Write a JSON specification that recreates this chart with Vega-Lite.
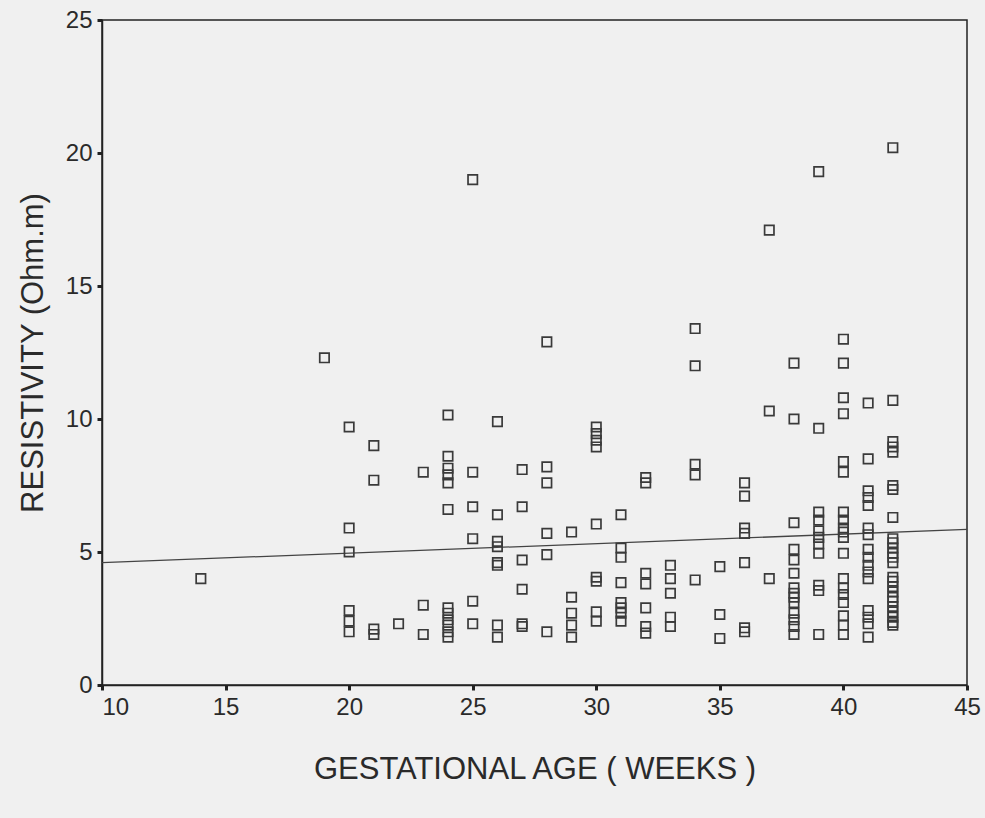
{
  "$schema": "https://vega.github.io/schema/vega-lite/v6.json",
  "width": 865,
  "height": 665,
  "autosize": "none",
  "padding": {"left": 102, "top": 20, "right": 18, "bottom": 133},
  "background": "#f0f0f0",
  "config": {
    "view": {"stroke": "#222222", "strokeWidth": 1.5},
    "font": "Liberation Sans",
    "axis": {
      "grid": false,
      "domainColor": "#222222",
      "domainWidth": 1.5,
      "tickColor": "#222222",
      "tickWidth": 3,
      "tickSize": 5,
      "labelFont": "Liberation Sans",
      "labelFontSize": 24,
      "labelColor": "#2a2a2a",
      "titleFont": "Liberation Sans",
      "titleFontSize": 31,
      "titleFontWeight": "normal",
      "titleColor": "#2a2a2a"
    }
  },
  "datasets": {
    "pts": [
      {"age": 14, "res": 4.0},
      {"age": 19, "res": 12.3},
      {"age": 20, "res": 9.7}, {"age": 20, "res": 5.9}, {"age": 20, "res": 5.0}, {"age": 20, "res": 2.8}, {"age": 20, "res": 2.4}, {"age": 20, "res": 2.0},
      {"age": 21, "res": 9.0}, {"age": 21, "res": 7.7}, {"age": 21, "res": 2.1}, {"age": 21, "res": 1.9},
      {"age": 22, "res": 2.3},
      {"age": 23, "res": 8.0}, {"age": 23, "res": 3.0}, {"age": 23, "res": 1.9},
      {"age": 24, "res": 10.15}, {"age": 24, "res": 8.6}, {"age": 24, "res": 8.15}, {"age": 24, "res": 7.9}, {"age": 24, "res": 7.6}, {"age": 24, "res": 6.6}, {"age": 24, "res": 2.9}, {"age": 24, "res": 2.7}, {"age": 24, "res": 2.45}, {"age": 24, "res": 2.25}, {"age": 24, "res": 2.0}, {"age": 24, "res": 1.8},
      {"age": 25, "res": 19.0}, {"age": 25, "res": 8.0}, {"age": 25, "res": 6.7}, {"age": 25, "res": 5.5}, {"age": 25, "res": 3.15}, {"age": 25, "res": 2.3},
      {"age": 26, "res": 9.9}, {"age": 26, "res": 6.4}, {"age": 26, "res": 5.4}, {"age": 26, "res": 5.2}, {"age": 26, "res": 4.6}, {"age": 26, "res": 4.5}, {"age": 26, "res": 2.25}, {"age": 26, "res": 1.8},
      {"age": 27, "res": 8.1}, {"age": 27, "res": 6.7}, {"age": 27, "res": 4.7}, {"age": 27, "res": 3.6}, {"age": 27, "res": 2.3}, {"age": 27, "res": 2.2},
      {"age": 28, "res": 12.9}, {"age": 28, "res": 8.2}, {"age": 28, "res": 7.6}, {"age": 28, "res": 5.7}, {"age": 28, "res": 4.9}, {"age": 28, "res": 2.0},
      {"age": 29, "res": 5.75}, {"age": 29, "res": 3.3}, {"age": 29, "res": 2.7}, {"age": 29, "res": 2.25}, {"age": 29, "res": 1.8},
      {"age": 30, "res": 9.7}, {"age": 30, "res": 9.45}, {"age": 30, "res": 9.2}, {"age": 30, "res": 8.95}, {"age": 30, "res": 6.05}, {"age": 30, "res": 4.05}, {"age": 30, "res": 3.9}, {"age": 30, "res": 2.75}, {"age": 30, "res": 2.4},
      {"age": 31, "res": 6.4}, {"age": 31, "res": 5.15}, {"age": 31, "res": 4.8}, {"age": 31, "res": 3.85}, {"age": 31, "res": 3.1}, {"age": 31, "res": 2.9}, {"age": 31, "res": 2.7}, {"age": 31, "res": 2.4},
      {"age": 32, "res": 7.8}, {"age": 32, "res": 7.6}, {"age": 32, "res": 4.2}, {"age": 32, "res": 3.8}, {"age": 32, "res": 2.9}, {"age": 32, "res": 2.2}, {"age": 32, "res": 1.95},
      {"age": 33, "res": 4.5}, {"age": 33, "res": 4.0}, {"age": 33, "res": 3.45}, {"age": 33, "res": 2.55}, {"age": 33, "res": 2.2},
      {"age": 34, "res": 13.4}, {"age": 34, "res": 12.0}, {"age": 34, "res": 8.3}, {"age": 34, "res": 7.9}, {"age": 34, "res": 3.95},
      {"age": 35, "res": 4.45}, {"age": 35, "res": 2.65}, {"age": 35, "res": 1.75},
      {"age": 36, "res": 7.6}, {"age": 36, "res": 7.1}, {"age": 36, "res": 5.9}, {"age": 36, "res": 5.7}, {"age": 36, "res": 4.6}, {"age": 36, "res": 2.15}, {"age": 36, "res": 2.0},
      {"age": 37, "res": 17.1}, {"age": 37, "res": 10.3}, {"age": 37, "res": 4.0},
      {"age": 38, "res": 12.1}, {"age": 38, "res": 10.0}, {"age": 38, "res": 6.1}, {"age": 38, "res": 5.1}, {"age": 38, "res": 4.7}, {"age": 38, "res": 4.2}, {"age": 38, "res": 3.65}, {"age": 38, "res": 3.45}, {"age": 38, "res": 3.3}, {"age": 38, "res": 3.1}, {"age": 38, "res": 2.7}, {"age": 38, "res": 2.45}, {"age": 38, "res": 2.2}, {"age": 38, "res": 1.9},
      {"age": 39, "res": 19.3}, {"age": 39, "res": 9.65}, {"age": 39, "res": 6.5}, {"age": 39, "res": 6.2}, {"age": 39, "res": 5.8}, {"age": 39, "res": 5.55}, {"age": 39, "res": 5.3}, {"age": 39, "res": 4.95}, {"age": 39, "res": 3.75}, {"age": 39, "res": 3.55}, {"age": 39, "res": 1.9},
      {"age": 40, "res": 13.0}, {"age": 40, "res": 12.1}, {"age": 40, "res": 10.8}, {"age": 40, "res": 10.2}, {"age": 40, "res": 8.4}, {"age": 40, "res": 8.0}, {"age": 40, "res": 6.5}, {"age": 40, "res": 6.2}, {"age": 40, "res": 5.9}, {"age": 40, "res": 5.75}, {"age": 40, "res": 5.55}, {"age": 40, "res": 4.95}, {"age": 40, "res": 4.0}, {"age": 40, "res": 3.65}, {"age": 40, "res": 3.4}, {"age": 40, "res": 3.1}, {"age": 40, "res": 2.6}, {"age": 40, "res": 2.25}, {"age": 40, "res": 1.9},
      {"age": 41, "res": 10.6}, {"age": 41, "res": 8.5}, {"age": 41, "res": 7.3}, {"age": 41, "res": 7.05}, {"age": 41, "res": 6.75}, {"age": 41, "res": 5.9}, {"age": 41, "res": 5.65}, {"age": 41, "res": 5.1}, {"age": 41, "res": 4.8}, {"age": 41, "res": 4.5}, {"age": 41, "res": 4.25}, {"age": 41, "res": 4.0}, {"age": 41, "res": 2.8}, {"age": 41, "res": 2.55}, {"age": 41, "res": 2.3}, {"age": 41, "res": 1.8},
      {"age": 42, "res": 20.2}, {"age": 42, "res": 10.7}, {"age": 42, "res": 9.15}, {"age": 42, "res": 8.95}, {"age": 42, "res": 8.75}, {"age": 42, "res": 7.5}, {"age": 42, "res": 7.35}, {"age": 42, "res": 6.3}, {"age": 42, "res": 5.5}, {"age": 42, "res": 5.35}, {"age": 42, "res": 5.15}, {"age": 42, "res": 4.95}, {"age": 42, "res": 4.8}, {"age": 42, "res": 4.6}, {"age": 42, "res": 4.05}, {"age": 42, "res": 3.9}, {"age": 42, "res": 3.7}, {"age": 42, "res": 3.5}, {"age": 42, "res": 3.3}, {"age": 42, "res": 3.15}, {"age": 42, "res": 2.95}, {"age": 42, "res": 2.75}, {"age": 42, "res": 2.55}, {"age": 42, "res": 2.35}, {"age": 42, "res": 2.25}
    ],
    "fit": [
      {"age": 10, "res": 4.6},
      {"age": 45, "res": 5.85}
    ]
  },
  "layer": [
    {
      "data": {"name": "fit"},
      "mark": {"type": "line", "color": "#444444", "strokeWidth": 1.3},
      "encoding": {
        "x": {"field": "age", "type": "quantitative"},
        "y": {"field": "res", "type": "quantitative"}
      }
    },
    {
      "data": {"name": "pts"},
      "mark": {"type": "point", "shape": "square", "size": 88, "filled": false, "stroke": "#3a3a3a", "strokeWidth": 1.7, "opacity": 1},
      "encoding": {
        "x": {
          "field": "age", "type": "quantitative",
          "scale": {"domain": [10, 45], "nice": false, "zero": false},
          "axis": {"values": [10, 15, 20, 25, 30, 35, 40, 45], "title": "GESTATIONAL AGE ( WEEKS )", "titlePadding": 35, "labelPadding": 5, "labelFlush": false, "labelAlign": {"expr": "datum.value == 10 ? 'left' : 'center'"}}
        },
        "y": {
          "field": "res", "type": "quantitative",
          "scale": {"domain": [0, 25], "nice": false},
          "axis": {"values": [0, 5, 10, 15, 20, 25], "title": "RESISTIVITY (Ohm.m)", "titlePadding": 16, "labelPadding": 5}
        }
      }
    }
  ]
}
